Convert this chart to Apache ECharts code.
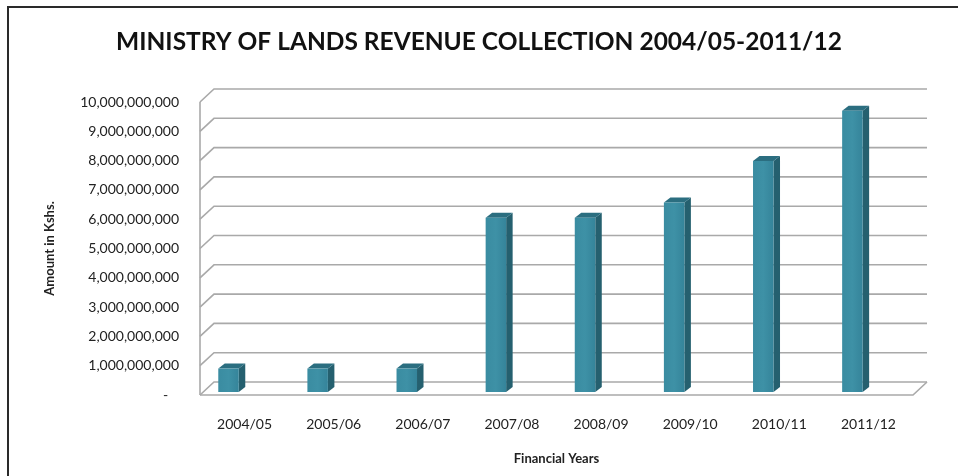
<!DOCTYPE html>
<html><head><meta charset="utf-8">
<script src="https://cdn.jsdelivr.net/npm/echarts@6/dist/echarts.min.js"></script>
<style>html,body{margin:0;padding:0;background:#fff}#c{width:958px;height:476px}</style>
</head><body><div id="c"></div>
<script>
var categories = ['2004/05','2005/06','2006/07','2007/08','2008/09','2009/10','2010/11','2011/12'];
var revenue = [800000000, 800000000, 800000000, 5950000000, 5950000000, 6470000000, 7880000000, 9600000000];
var yTicks = [0,1000000000,2000000000,3000000000,4000000000,5000000000,6000000000,7000000000,8000000000,9000000000,10000000000];
var titleText = 'MINISTRY OF LANDS REVENUE COLLECTION 2004/05-2011/12';
var yName = 'Amount in Kshs.';
var xName = 'Financial Years';

var DX = 14, DY = -13;
var gridColor = '#a9a9a9';

function fmt(v){
  if (v === 0) return '-   ';
  return String(v).replace(/\B(?=(\d{3})+(?!\d))/g, ',');
}

var chart = echarts.init(document.getElementById('c'));
chart.setOption({
  backgroundColor:'#fff',
  animation:false,
  title:{text:titleText,left:'center',top:30,padding:0,
    textStyle:{fontFamily:'Lato',fontWeight:'bold',fontSize:24.5,color:'#111'}},
  grid:{left:200,right:45,top:102,bottom:81},
  xAxis:{type:'category',data:categories,
    axisLine:{show:false},axisTick:{show:false},
    axisLabel:{margin:22,fontFamily:'Lato',fontSize:14,color:'#222'},
    name:xName,nameLocation:'middle',nameGap:57,
    nameTextStyle:{fontFamily:'Lato',fontWeight:'bold',fontSize:13,color:'#222'}},
  yAxis:{type:'value',min:0,max:10000000000,interval:1000000000,
    axisLine:{show:false},axisTick:{show:false},splitLine:{show:false},
    axisLabel:{margin:21,fontFamily:'Lato',fontSize:14,color:'#222',formatter:fmt},
    name:yName,nameLocation:'middle',nameGap:144,nameRotate:90,
    nameTextStyle:{fontFamily:'Lato',fontWeight:'bold',fontSize:13,color:'#222'}},
  graphic:[{type:'rect',shape:{x:8,y:7,width:1000,height:1000},
    style:{fill:'none',stroke:'#2a2a2a',lineWidth:2},silent:true}],
  series:[
    {type:'custom',name:'walls',silent:true,z:1,
      data:yTicks.map(function(v){return [0,v];}),
      renderItem:function(params,api){
        var cs = params.coordSys;
        var v = api.value(1);
        var y = api.coord([0,v])[1];
        var left = cs.x, right = cs.x+cs.width;
        var children = [];
        children.push({type:'polyline',shape:{points:[[left,y],[left+DX,y+DY],[right+DX,y+DY]]},
          style:{stroke:gridColor,lineWidth:1.6,fill:'none'}});
        if (v === 0){
          children.push({type:'polyline',shape:{points:[[left,y],[right,y],[right+DX,y+DY]]},
            style:{stroke:gridColor,lineWidth:1.6,fill:'none'}});
          var ytop = api.coord([0,yTicks[yTicks.length-1]])[1];
          children.push({type:'line',shape:{x1:left,y1:y,x2:left,y2:ytop},
            style:{stroke:gridColor,lineWidth:1.6}});
        }
        return {type:'group',children:children};
      }
    },
    {type:'custom',name:'Revenue',z:3,
      data:revenue.map(function(v,i){return [i,v];}),
      renderItem:function(params,api){
        var i = api.value(0), v = api.value(1);
        var band = api.size([1,0])[0];
        var base = api.coord([i,0]);
        var top = api.coord([i,v]);
        var w = band*0.23;
        var xl = base[0] - band*0.18 - w/2;
        var xr = xl + w;
        var yb = base[1] - 3;
        var yt = top[1] - 3;
        var sx = 6.5, sy = -5;
        return {type:'group',children:[
          {type:'polygon',shape:{points:[[xr,yt],[xr+sx,yt+sy],[xr+sx,yb+sy],[xr,yb]]},
            style:{fill:'#25606f'}},
          {type:'polygon',shape:{points:[[xl,yt],[xr,yt],[xr+sx,yt+sy],[xl+sx,yt+sy]]},
            style:{fill:'#2b6e80'}},
          {type:'rect',shape:{x:xl,y:yt,width:w,height:yb-yt},
            style:{fill:new echarts.graphic.LinearGradient(0,0,1,0,[
              {offset:0,color:'#3a8ca1'},{offset:0.5,color:'#3e91a6'},{offset:1,color:'#35849a'}])}}
        ]};
      }
    }
  ]
});
</script></body></html>
